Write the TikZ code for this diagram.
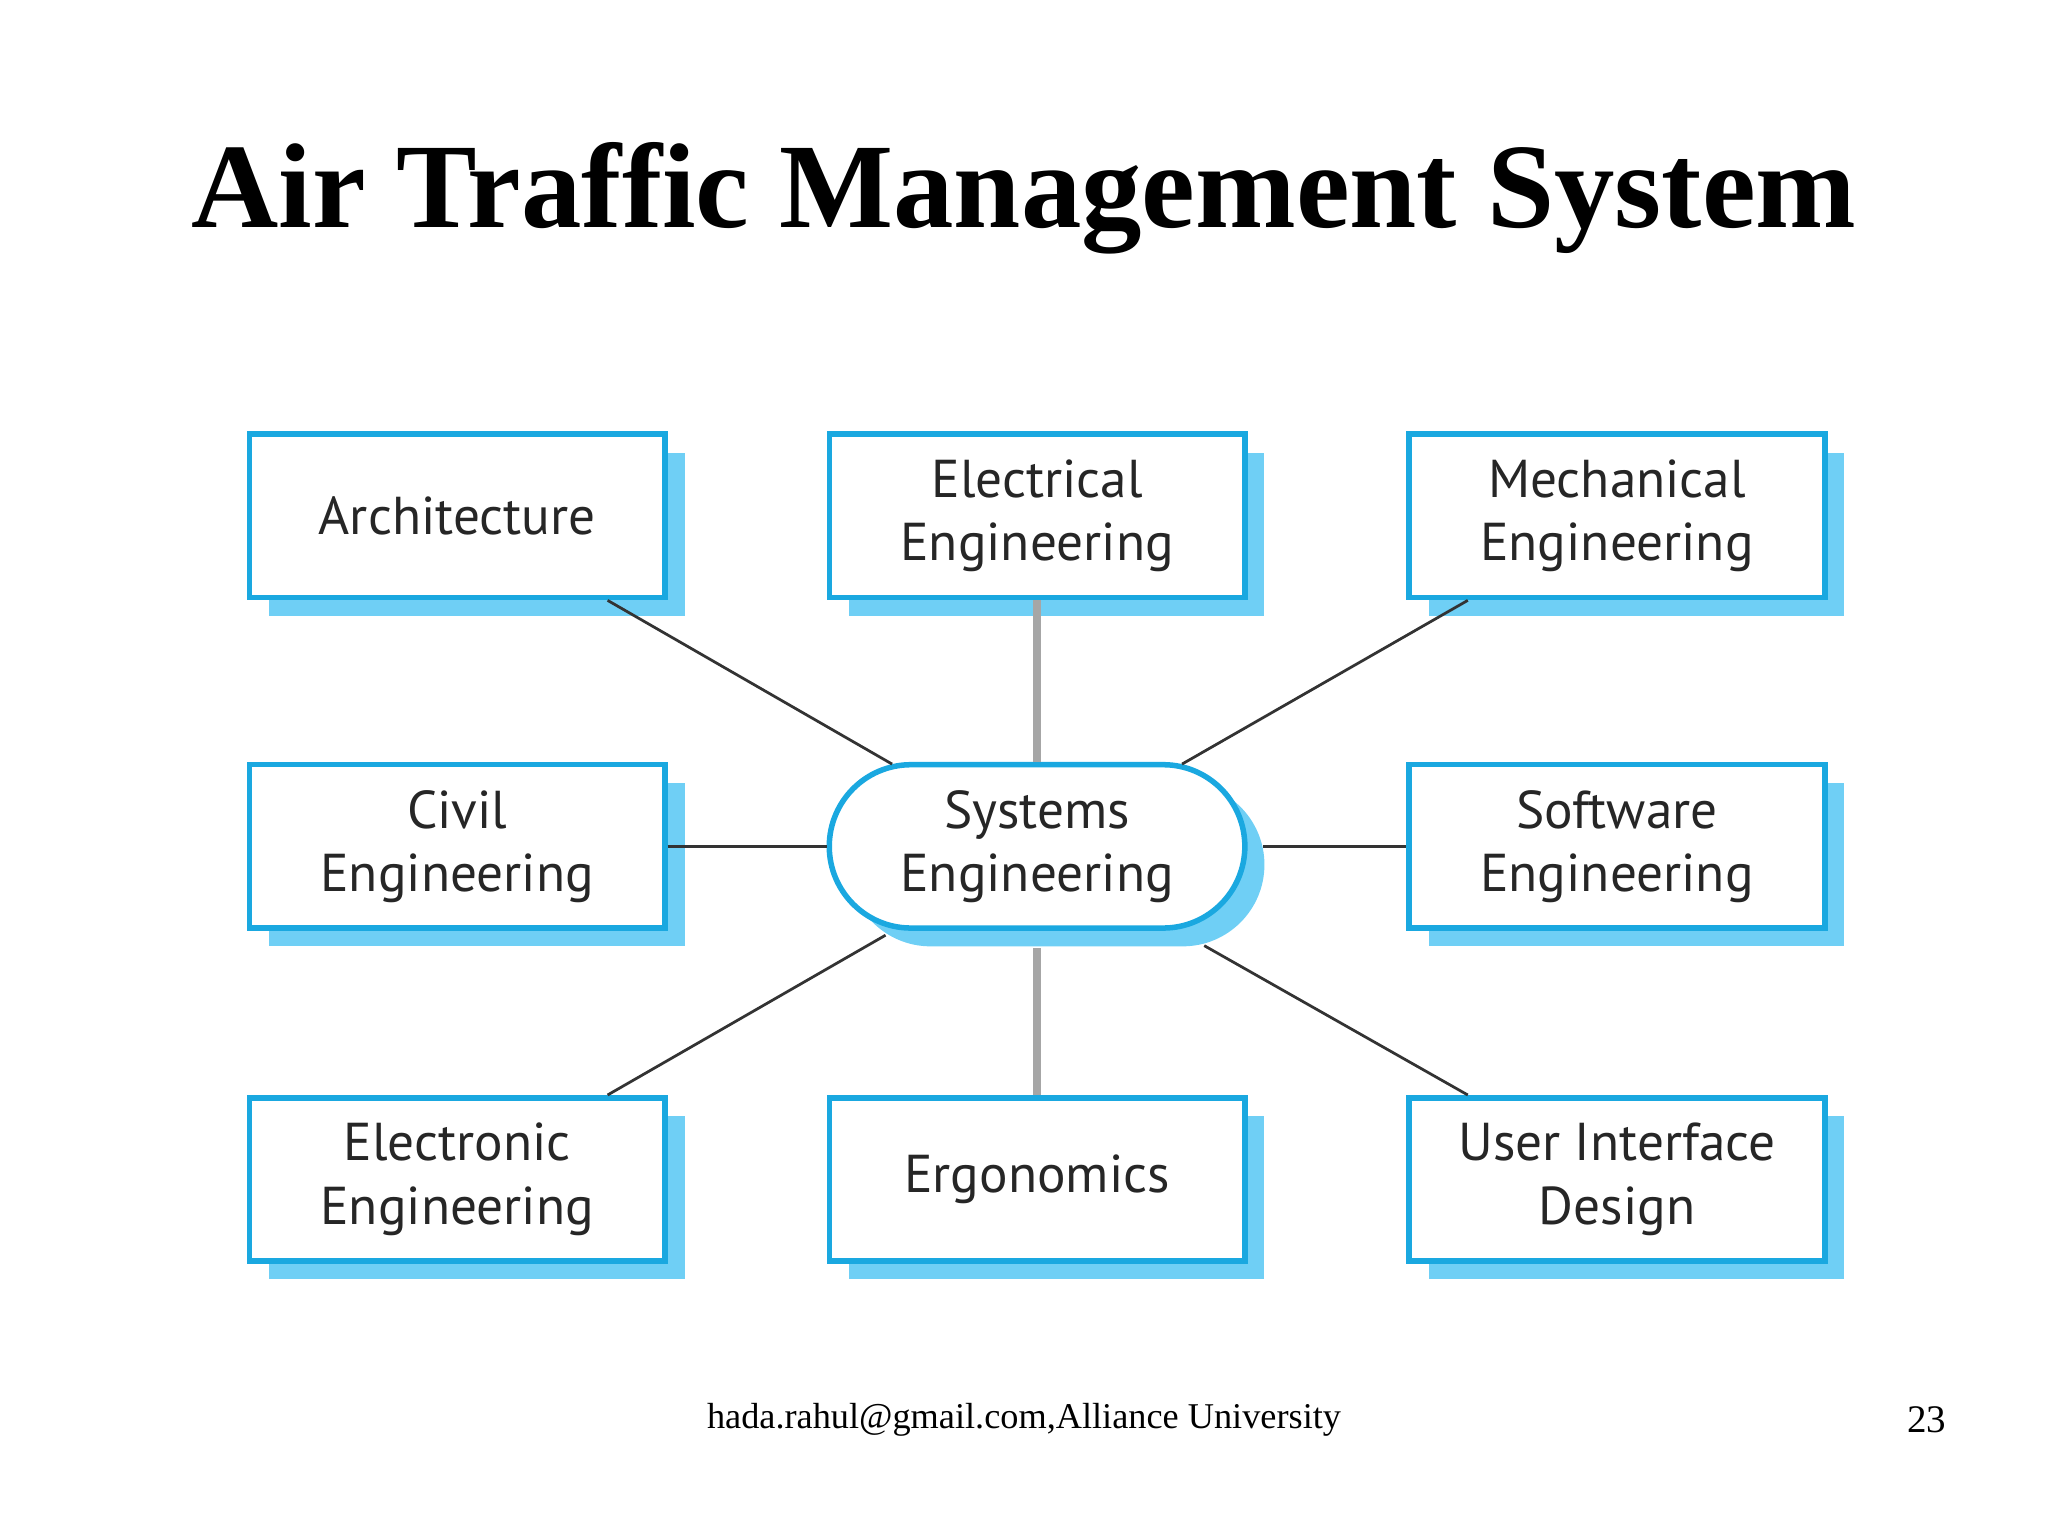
\documentclass[tikz,border=0pt]{standalone}
\usepackage{fontspec}
\setmainfont{Liberation Serif}
\newfontfamily\boxfont{PT Sans}
\usetikzlibrary{shapes.misc}
\definecolor{bblue}{HTML}{1AA8E0}
\definecolor{shad}{HTML}{6FCFF5}
\tikzset{
 px/.style={x=0.01cm,y=-0.01cm},
 sbox/.style={draw=bblue,line width=1.2pt,fill=white,minimum width=3.18cm,minimum height=1.25cm,align=center,font=\boxfont\fontsize{11.6}{13.8}\selectfont,text=black!85,inner sep=0pt},
 shbox/.style={fill=shad,minimum width=3.18cm,minimum height=1.25cm,inner sep=0pt},
 lk/.style={draw=black!80,line width=0.6pt},
 gk/.style={draw=black!35,line width=1.6pt}
}
\begin{document}
\begin{tikzpicture}[px]
\useasboundingbox (0,0) rectangle (1568,1175);
\node[font=\bfseries\fontsize{26.3}{30}\selectfont] (title) at (784,152) {Air Traffic Management System};
\foreach \x/\y in {350/395,794/395,1238/395,350/648,1238/648,350/903,794/903,1238/903}
  \node[shbox] at (\x+15,\y+14) {};
\node[shbox,rounded rectangle] at (809,662) {};
\node[sbox] (arch) at (350,395) {Architecture};
\node[sbox] (elec) at (794,395) {Electrical\\Engineering};
\node[sbox] (mech) at (1238,395) {Mechanical\\Engineering};
\node[sbox] (civ) at (350,648) {Civil\\Engineering};
\node[sbox,rounded rectangle] (sys) at (794,648) {Systems\\Engineering};
\node[sbox] (soft) at (1238,648) {Software\\Engineering};
\node[sbox] (eltr) at (350,903) {Electronic\\Engineering};
\node[sbox] (ergo) at (794,903) {Ergonomics};
\node[sbox] (ui) at (1238,903) {User Interface\\Design};
\draw[lk] (arch.south east) ++(-46,0) coordinate (a1) -- (683,585);
\draw[gk] (elec.south) -- (sys.north);
\draw[lk] (mech.south west) ++(47,0) coordinate (m1) -- (905,585);
\draw[lk] (civ.east) -- (sys.west);
\draw[lk] (sys.east) ++(12,0) coordinate (s1) -- (soft.west);
\draw[lk] (eltr.north east) ++(-46,0) coordinate (e1) -- (678,716);
\draw[gk] (794,726) -- (ergo.north);
\draw[lk] (ui.north west) ++(47,0) coordinate (u1) -- (922,724);
\node[font=\fontsize{7.9}{10}\selectfont] (foot) at (784,1087) {hada.rahul@gmail.com,Alliance University};
\node[font=\fontsize{8.5}{10}\selectfont] (pg) at (1475,1087) {23};
\end{tikzpicture}
\end{document}
